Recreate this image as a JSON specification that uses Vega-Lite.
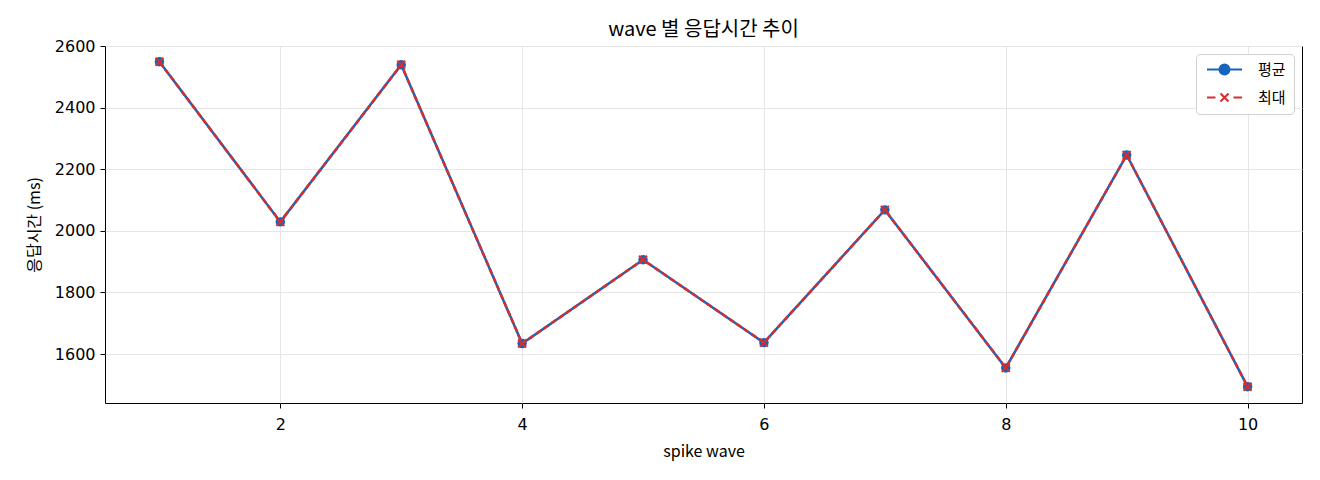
{
  "$schema": "https://vega.github.io/schema/vega-lite/v6.json",
  "width": 1197,
  "height": 357,
  "autosize": {"type": "none"},
  "padding": {"left": 105, "top": 46, "right": 18, "bottom": 77},
  "background": "white",
  "title": {
    "text": "wave 별 응답시간 추이",
    "fontSize": 20,
    "fontWeight": "normal",
    "color": "black",
    "offset": -2
  },
  "data": {
    "values": [
      {"wave": 1, "series": "평균", "value": 2549},
      {"wave": 2, "series": "평균", "value": 2029},
      {"wave": 3, "series": "평균", "value": 2539},
      {"wave": 4, "series": "평균", "value": 1634},
      {"wave": 5, "series": "평균", "value": 1906},
      {"wave": 6, "series": "평균", "value": 1637},
      {"wave": 7, "series": "평균", "value": 2068},
      {"wave": 8, "series": "평균", "value": 1555},
      {"wave": 9, "series": "평균", "value": 2246},
      {"wave": 10, "series": "평균", "value": 1494},
      {"wave": 1, "series": "최대", "value": 2549},
      {"wave": 2, "series": "최대", "value": 2029},
      {"wave": 3, "series": "최대", "value": 2539},
      {"wave": 4, "series": "최대", "value": 1634},
      {"wave": 5, "series": "최대", "value": 1906},
      {"wave": 6, "series": "최대", "value": 1637},
      {"wave": 7, "series": "최대", "value": 2068},
      {"wave": 8, "series": "최대", "value": 1555},
      {"wave": 9, "series": "최대", "value": 2246},
      {"wave": 10, "series": "최대", "value": 1494}
    ]
  },
  "encoding": {
    "x": {
      "field": "wave",
      "type": "quantitative",
      "scale": {"domain": [0.55, 10.45], "nice": false, "zero": false},
      "axis": {"values": [2, 4, 6, 8, 10], "format": "d", "title": "spike wave"}
    },
    "y": {
      "field": "value",
      "type": "quantitative",
      "scale": {"domain": [1441, 2600], "nice": false, "zero": false},
      "axis": {"values": [1600, 1800, 2000, 2200, 2400, 2600], "format": "d", "title": "응답시간 (ms)"}
    }
  },
  "layer": [
    {
      "transform": [{"filter": "datum.series === '평균'"}],
      "mark": {"type": "line", "strokeWidth": 2.5},
      "encoding": {
        "color": {
          "field": "series",
          "type": "nominal",
          "scale": {"domain": ["평균", "최대"], "range": ["#1565C0", "#D32F2F"]},
          "legend": {
            "orient": "top-right",
            "offset": 8,
            "title": null,
            "fillColor": "white",
            "strokeColor": "#d0d0d0",
            "cornerRadius": 4,
            "padding": 8,
            "labelFontSize": 15,
            "labelColor": "black",
            "symbolSize": 100,
            "symbolOffset": 13,
            "labelOffset": 26,
            "rowPadding": 10,
            "encode": {
              "symbols": {
                "update": {
                  "shape": {"signal": "datum.value === '평균' ? 'M-3.5,0L3.5,0M1,0A1,1,0,1,1,-1,0A1,1,0,1,1,1,0Z' : 'M-3.5,0L-1.8,0M1.8,0L3.5,0M-0.8,-0.8L0.8,0.8M-0.8,0.8L0.8,-0.8'"},
                  "fill": {"signal": "datum.value === '평균' ? '#1565C0' : 'transparent'"},
                  "stroke": {"signal": "datum.value === '평균' ? '#1565C0' : '#D32F2F'"},
                  "strokeWidth": {"value": 2},
                  "opacity": {"value": 1}
                }
              }
            }
          }
        }
      }
    },
    {
      "transform": [{"filter": "datum.series === '평균'"}],
      "mark": {"type": "point", "shape": "circle", "filled": true, "size": 90, "color": "#1565C0", "opacity": 1}
    },
    {
      "transform": [{"filter": "datum.series === '최대'"}],
      "mark": {"type": "line", "strokeWidth": 2.5, "strokeDash": [6, 3], "color": "#D32F2F"}
    },
    {
      "transform": [{"filter": "datum.series === '최대'"}],
      "mark": {
        "type": "point",
        "shape": "M-1,-1L1,1M-1,1L1,-1",
        "filled": false,
        "size": 64,
        "strokeWidth": 2,
        "color": "#D32F2F",
        "opacity": 1
      }
    }
  ],
  "config": {
    "font": "Noto Sans CJK KR",
    "view": {"stroke": "black", "strokeWidth": 1},
    "axis": {
      "domain": false,
      "tickColor": "black",
      "tickSize": 5,
      "labelFont": "DejaVu Sans",
      "labelFontSize": 16,
      "labelColor": "black",
      "labelPadding": 5,
      "titleFontSize": 16,
      "titleFontWeight": "normal",
      "titleColor": "black",
      "gridColor": "#e6e6e6",
      "gridWidth": 1
    },
    "axisX": {"labelPadding": 8, "titlePadding": 11},
    "axisY": {"titlePadding": 12}
  }
}
